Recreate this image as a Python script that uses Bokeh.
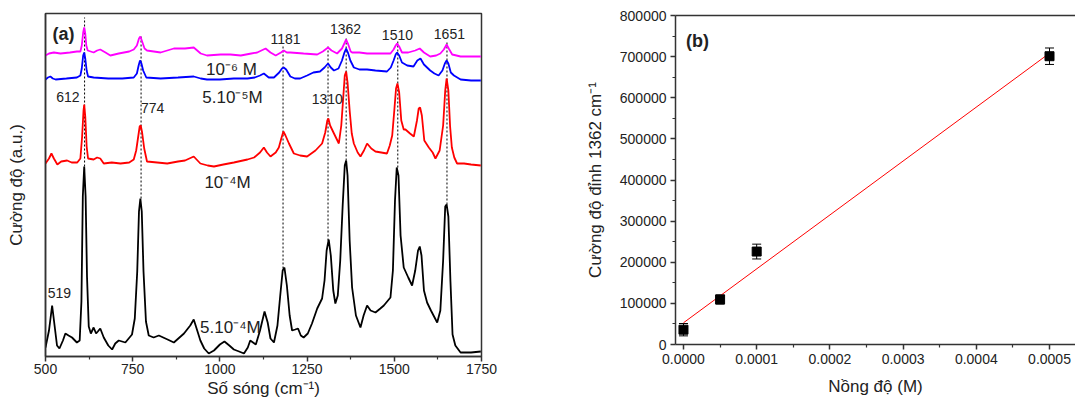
from bokeh.plotting import figure
from bokeh.models import (Range1d, FixedTicker, LinearAxis, PrintfTickFormatter,
                          Whisker, TeeHead, ColumnDataSource)
from bokeh.embed import file_html
from bokeh.resources import INLINE
from bokeh.core.properties import value

FONT = "Liberation Sans"

# ---------------- Panel (a): SERS spectra (a.u., stacked) ----------------
wn_black = [500, 510, 519, 526, 533, 540, 550, 557, 566, 576, 590, 598, 603, 607, 611, 615, 619, 624,
            630, 638, 645, 650, 657, 667, 680, 691, 700, 710, 729, 748, 756, 763, 768, 772, 776, 781,
            788, 796, 810, 825, 850, 868, 897, 915, 925, 935, 944, 955, 968, 983, 1000, 1013, 1027,
            1040, 1055, 1069, 1080, 1087, 1095, 1103, 1115, 1128, 1137, 1145, 1155, 1165, 1173, 1180,
            1185, 1192, 1200, 1207, 1216, 1224, 1232, 1240, 1252, 1264, 1279, 1293, 1300, 1306, 1312,
            1318, 1325, 1331, 1338, 1345, 1352, 1358, 1362, 1366, 1372, 1379, 1390, 1403, 1412, 1422,
            1432, 1446, 1460, 1470, 1489, 1496, 1502, 1507, 1512, 1518, 1527, 1540, 1551, 1560, 1568,
            1573, 1578, 1585, 1594, 1605, 1623, 1632, 1640, 1646, 1650, 1655, 1661, 1667, 1675, 1690,
            1720, 1748]
int_black = [9, 26, 51, 31, 11, 8, 16, 23, 21, 19, 14, 16, 55, 160, 190, 160, 80, 30,
             23, 29, 23, 25, 28, 19, 11, 7, 13, 16, 14, 22, 38, 85, 145, 158, 145, 85,
             35, 21, 19, 21, 17, 14, 23, 31, 37, 26, 16, 8, 3, 6, 12, 15, 11,
             7, 5, 3, 9, 16, 14, 12, 26, 45, 34, 18, 14, 31, 61, 86,
             89, 71, 41, 26, 27, 28, 21, 19, 23, 33, 48, 58, 76, 106, 117,
             101, 66, 53, 61, 96, 151, 191, 196, 181, 116, 69, 41, 29, 41, 51,
             46, 44, 48, 51, 59, 86, 156, 189, 181, 121, 89, 79, 71, 86, 106,
             110, 101, 66, 54, 46, 34, 46, 96, 150, 152, 140, 75, 22, 11, 4,
             4, 5]

wn_red = [500, 510, 517, 524, 534, 545, 562, 575, 591, 600, 605, 609, 611, 614, 618, 622, 638, 648,
          657, 667, 690, 715, 740, 753, 760, 765, 770, 773, 777, 783, 791, 820, 849, 880, 900, 925,
          944, 965, 983, 1010, 1040, 1079, 1098, 1115, 1126, 1135, 1145, 1160, 1169, 1176, 1182,
          1188, 1198, 1212, 1230, 1250, 1274, 1293, 1302, 1308, 1311, 1316, 1327, 1341, 1348, 1353,
          1358, 1362, 1366, 1372, 1378, 1384, 1395, 1403, 1413, 1422, 1434, 1446, 1479, 1487, 1494,
          1500, 1505, 1509, 1514, 1520, 1527, 1532, 1545, 1556, 1565, 1570, 1574, 1579, 1586, 1599,
          1610, 1618, 1630, 1640, 1646, 1650, 1655, 1660, 1665, 1672, 1680, 1700, 1720, 1748]
int_red = [193, 198, 203, 198, 192, 195, 196, 194, 194, 198, 220, 246, 252, 240, 210, 198, 197, 199,
           198, 193, 194, 193, 194, 197, 206, 218, 230, 231, 224, 208, 195, 194, 193, 195, 196, 200,
           193, 191, 190, 192, 194, 197, 199, 204, 209, 204, 200, 204, 209, 218, 225,
           221, 213, 203, 201, 200, 206, 213, 224, 236, 238, 231, 223, 213, 231, 256,
           281, 285, 274, 246, 223, 213, 204, 200, 206, 213, 208, 205, 203, 211, 221,
           246, 268, 273, 264, 236, 227, 227, 223, 220, 236, 248, 249, 241, 216, 209,
           204, 198, 206, 231, 266, 278, 266, 230, 209, 199, 193, 193, 192, 191]

wn_blue = [500, 507, 514, 521, 529, 560, 590, 600, 604, 608, 611, 614, 618, 622, 638, 680, 720, 753,
           762, 767, 771, 775, 780, 789, 830, 880, 925, 945, 963, 1000, 1040, 1079, 1100, 1115, 1126,
           1140, 1155, 1170, 1178, 1183, 1190, 1202, 1215, 1230, 1250, 1268, 1287, 1300, 1310, 1318,
           1327, 1340, 1350, 1357, 1362, 1367, 1374, 1384, 1400, 1422, 1446, 1479, 1490, 1498, 1504,
           1508, 1514, 1522, 1537, 1555, 1566, 1575, 1585, 1603, 1615, 1627, 1638, 1645, 1650, 1655,
           1662, 1671, 1690, 1720, 1748]
int_blue = [277, 279, 280, 278, 277, 278, 279, 281, 288, 301, 304, 298, 286, 280, 279, 278, 278, 279,
            283, 291, 296, 293, 286, 279, 278, 279, 280, 278, 277, 277, 278, 278, 279, 281, 283,
            279, 279, 284, 288, 289, 287, 280, 278, 278, 281, 284, 285, 289, 293, 289,
            286, 288, 296, 304, 308, 304, 296, 289, 287, 287, 286, 285, 289, 296, 302,
            304, 301, 294, 291, 290, 296, 298, 292, 286, 283, 281, 286, 293, 296, 293,
            284, 281, 277, 276, 276]

wn_mag = [500, 510, 524, 543, 570, 590, 600, 604, 608, 611, 614, 617, 621, 638, 648, 657, 672, 686,
          710, 740, 753, 762, 768, 772, 777, 784, 791, 830, 868, 900, 925, 945, 963, 1002, 1030, 1060,
          1090, 1107, 1131, 1145, 1160, 1175, 1183, 1192, 1202, 1240, 1279, 1295, 1310, 1320, 1336,
          1350, 1358, 1362, 1367, 1375, 1379, 1400, 1422, 1460, 1489, 1498, 1504, 1508, 1514, 1522,
          1540, 1560, 1573, 1585, 1603, 1620, 1632, 1642, 1650, 1656, 1666, 1690, 1709, 1748]
int_mag = [301, 303, 304, 303, 304, 305, 305, 311, 324, 329, 323, 311, 306, 304, 306, 307, 304, 301,
           303, 305, 307, 311, 318, 320, 315, 308, 306, 304, 308, 308, 309, 303, 301, 302, 302, 301,
           303, 304, 308, 304, 301, 304, 306, 304, 304, 303, 302, 305, 309, 306, 303,
           308, 314, 317, 313, 305, 304, 304, 303, 303, 303, 307, 311, 313, 310, 304,
           304, 306, 308, 304, 300, 301, 303, 307, 312, 308, 302, 300, 300, 300]

peak_pos = [612, 774, 1181, 1310, 1362, 1510, 1651]
peak_line_top = [339, 321, 311, 310, 318, 316, 316]
peak_line_bottom = [186, 158, 88, 116, 196, 189, 152]

peak_text = ["612", "774", "1181", "1310", "1362", "1510", "1651", "519"]
peak_text_x = [564, 807, 1188, 1308, 1360, 1509, 1658, 540]
peak_text_y = [260, 249, 318, 258, 328, 322, 323, 64]

conc_text = ["10⁻⁶ M", "5.10⁻⁵M", "10⁻⁴M", "5.10⁻⁴M"]
conc_text_x = [1033, 1036, 1022, 1030]
conc_text_y = [287, 259, 174, 29]

x_ticks_a = [500, 750, 1000, 1250, 1500, 1750]
x_minor_a = [625, 875, 1125, 1375, 1625]

# ---------------- Panel (b): calibration ----------------
conc = [0.0, 0.00005, 0.0001, 0.0005]
peak1362 = [36000, 109500, 226000, 701000]
peak_err = [15000, 11000, 18000, 20000]
fit_x = [0.0, 0.0005]
fit_y = [52800, 708300]

x_ticks_b = [0.0, 0.0001, 0.0002, 0.0003, 0.0004, 0.0005]
x_minor_b = [0.00005, 0.00015, 0.00025, 0.00035, 0.00045]
y_ticks_b = [0, 100000, 200000, 300000, 400000, 500000, 600000, 700000, 800000]
y_minor_b = [50000, 150000, 250000, 350000, 450000, 550000, 650000, 750000]

AX = "#333333"
TXT = "#222222"


def style_axis(ax, label_size="17px"):
    ax.axis_line_color = AX
    ax.axis_line_width = 1.5
    ax.major_tick_line_color = AX
    ax.major_tick_line_width = 1.5
    ax.minor_tick_line_color = AX
    ax.minor_tick_line_width = 1.2
    ax.major_tick_out = 5
    ax.major_tick_in = 0
    ax.minor_tick_out = 3
    ax.minor_tick_in = 0
    ax.major_label_text_font = FONT
    ax.major_label_text_font_size = "14px"
    ax.major_label_text_color = TXT
    ax.axis_label_text_font = FONT
    ax.axis_label_text_font_size = label_size
    ax.axis_label_text_font_style = "normal"
    ax.axis_label_text_color = TXT


# ---- figure (a)
pa = figure(width=560, height=402, x_range=Range1d(500, 1750), y_range=Range1d(0, 343),
            output_backend="svg", toolbar_location=None,
            min_border_left=45, min_border_right=79, min_border_top=13, min_border_bottom=46)
pa.styles = {"position": "absolute", "left": "0px", "top": "0px"}
pa.xgrid.visible = False
pa.ygrid.visible = False
pa.outline_line_color = AX
pa.outline_line_width = 1.5
pa.outline_line_alpha = 1.0
pa.background_fill_color = "white"
pa.border_fill_color = "white"

style_axis(pa.xaxis[0])
pa.xaxis.ticker = FixedTicker(ticks=x_ticks_a, minor_ticks=x_minor_a)
pa.xaxis.axis_label = "Số sóng (cm⁻¹)"
pa.xaxis.major_label_standoff = 2
pa.xaxis.axis_label_standoff = 2

style_axis(pa.yaxis[0])
pa.yaxis.ticker = FixedTicker(ticks=[])
pa.yaxis.major_label_text_font_size = "0px"
pa.yaxis.axis_label = "Cường độ (a.u.)"
pa.yaxis.axis_label_standoff = 20

pa.segment(x0=peak_pos, y0=peak_line_bottom, x1=peak_pos, y1=peak_line_top,
           line_color="black", line_width=1, line_dash="2 2")

pa.line(wn_black, int_black, line_color="black", line_width=1.8)
pa.line(wn_red, int_red, line_color="#ff0000", line_width=1.8)
pa.line(wn_blue, int_blue, line_color="#0000ff", line_width=1.8)
pa.line(wn_mag, int_mag, line_color="#ff00ff", line_width=1.8)

pa.text(x=peak_text_x, y=peak_text_y, text=peak_text, text_font=value(FONT),
        text_font_size="14px", text_color=TXT, text_align="center", text_baseline="middle")
pa.text(x=conc_text_x, y=conc_text_y, text=conc_text, text_font=value(FONT),
        text_font_size="17px", text_color=TXT, text_align="center", text_baseline="middle")
pa.text(x=[520], y=[323], text=["(a)"], text_font=value(FONT), text_font_size="18px",
        text_font_style="bold", text_color=TXT, text_align="left", text_baseline="middle")

# ---- figure (b)
pb = figure(width=515, height=402, x_range=Range1d(-0.0000109, 0.0005355),
            y_range=Range1d(0, 800000),
            output_backend="svg", toolbar_location=None,
            min_border_left=115, min_border_right=0, min_border_top=15, min_border_bottom=58)
pb.styles = {"position": "absolute", "left": "560px", "top": "0px"}
pb.xgrid.visible = False
pb.ygrid.visible = False
pb.outline_line_color = None
pb.background_fill_color = "white"
pb.border_fill_color = "white"

style_axis(pb.xaxis[0])
pb.xaxis.ticker = FixedTicker(ticks=x_ticks_b, minor_ticks=x_minor_b)
pb.xaxis.formatter = PrintfTickFormatter(format="%.4f")
pb.xaxis.axis_label = "Nồng độ (M)"
pb.xaxis.major_label_standoff = 4
pb.xaxis.axis_label_standoff = 10

style_axis(pb.yaxis[0])
pb.yaxis.ticker = FixedTicker(ticks=y_ticks_b, minor_ticks=y_minor_b)
pb.yaxis.formatter = PrintfTickFormatter(format="%d")
pb.yaxis.axis_label = "Cường độ đỉnh 1362 cm⁻¹"
pb.yaxis.major_label_standoff = 4
pb.yaxis.axis_label_standoff = 12

top_axis = LinearAxis(ticker=FixedTicker(ticks=[]), major_label_text_font_size="0px",
                      axis_line_color=AX, axis_line_width=1.5, major_label_standoff=0)
pb.add_layout(top_axis, "above")

pb.line(fit_x, fit_y, line_color="#ff0000", line_width=1)

src = ColumnDataSource(dict(
    x=conc, y=peak1362,
    lo=[v - e for v, e in zip(peak1362, peak_err)],
    hi=[v + e for v, e in zip(peak1362, peak_err)],
))
pb.add_layout(Whisker(source=src, base="x", lower="lo", upper="hi",
                      line_color="black", line_width=1,
                      upper_head=TeeHead(size=9, line_color="black", line_width=1),
                      lower_head=TeeHead(size=9, line_color="black", line_width=1)))
pb.scatter("x", "y", source=src, marker="square", size=9, color="black")

pb.text(x=[0.0000191], y=[739000], text=["(b)"], text_font=value(FONT), text_font_size="18px",
        text_font_style="bold", text_color=TXT, text_align="center", text_baseline="middle")

open("out.html", "w").write(file_html([pa, pb], INLINE))
